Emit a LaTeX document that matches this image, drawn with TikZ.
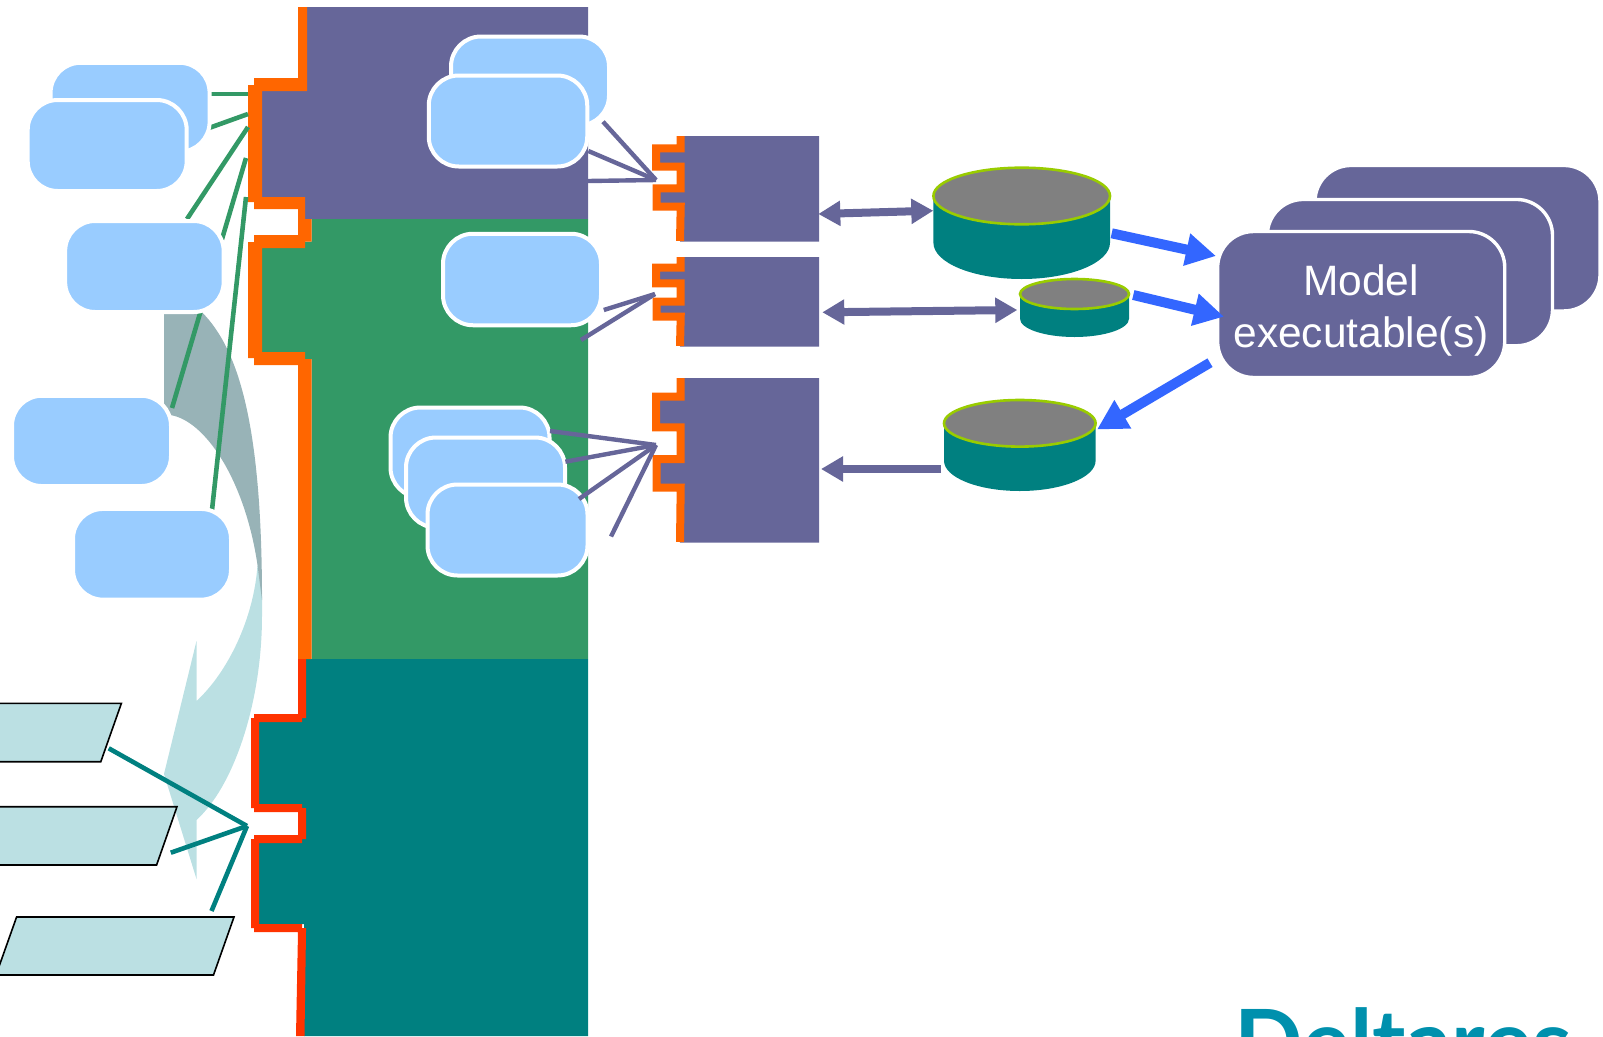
\documentclass[tikz,border=0pt]{standalone}
\usepackage{fontspec}
\setmainfont{Liberation Sans}
\newfontfamily\logofont{Lato}
\usetikzlibrary{arrows.meta,shapes.geometric}
\definecolor{cpurple}{HTML}{666699}
\definecolor{cgreen}{HTML}{339966}
\definecolor{cteal}{HTML}{008080}
\definecolor{clight}{HTML}{99CCFF}
\definecolor{cpale}{HTML}{BBE0E3}
\definecolor{cshade}{HTML}{98B3B7}
\definecolor{corange}{HTML}{FF6600}
\definecolor{cred}{HTML}{FF3300}
\definecolor{cblue}{HTML}{3366FF}
\definecolor{colive}{HTML}{99CC00}
\definecolor{cgray}{HTML}{808080}
\definecolor{clogo}{HTML}{0090AD}
\tikzset{
  lightbox/.style={rectangle,draw=white,fill=clight,line width=4pt,rounded corners=30pt,outer sep=0pt,inner sep=0pt},
  modelbox/.style={rectangle,draw=white,fill=cpurple,line width=3.4pt,rounded corners=36pt,outer sep=0pt,inner sep=0pt,text=white,align=center},
  greenline/.style={draw=cgreen,line width=4.6pt},
  tealline/.style={draw=cteal,line width=4.6pt},
  purpleline/.style={draw=cpurple,line width=4.4pt},
  dataflow/.style={draw=cpurple,line width=8pt},
  dbl/.style={dataflow,{Triangle[length=22pt,width=24pt]}-{Triangle[length=22pt,width=24pt]}},
  sgl/.style={dataflow,-{Triangle[length=22pt,width=24pt]}},
  blueflow/.style={draw=cblue,line width=10pt,-{Triangle[length=30pt,width=31pt]}},
  para/.style={fill=cpale,draw=black,line width=1.6pt,line join=miter},
  portpath/.style={draw=corange,line width=8pt,line join=miter,line cap=butt}
}
\newcommand{\drum}[7]{% x-centre, rx, top-centre y, top ry, side bottom y, bottom ry, name
  \fill[cteal] (#1-#2,#3) -- (#1-#2,#5) arc[x radius=#2,y radius=-#6,start angle=180,end angle=360] -- (#1+#2,#3) -- cycle;
  \node[ellipse,inner sep=0pt,outer sep=0pt,minimum width=#2*2pt,minimum height=#4*2pt,fill=cgray,draw=colive,line width=2.6pt] (#7) at (#1,#3) {};
}
\begin{document}
\begin{tikzpicture}[x=1pt,y=-1pt]
\useasboundingbox (0,0) rectangle (1603,1036);
\clip (0,0) rectangle (1603,1036);

% curved arrow behind the left boxes
\fill[cpale] (262,590) -- (262,616) .. controls (262,700) and (235,785) .. (196.5,820) -- (196.5,879) -- (164,774) -- (196.5,641) -- (196.5,701) .. controls (228,672) and (254,618) .. (257.5,565) -- cycle;
\fill[cshade] (164,314) -- (201.7,312) .. controls (240,350) and (262,430) .. (262,600) -- (257.5,565) .. controls (245,480) and (205,420) .. (170,415) -- (164,407) -- cycle;

% main components
\fill[cpurple] (307,7) -- (588,7) -- (588,219) -- (305,219) -- (305,197) -- (262,197) -- (262,91) -- (307,91) -- cycle;
\fill[cgreen] (311.6,219) -- (588,219) -- (588,659) -- (311.6,659) -- (311.6,359) -- (305,359) -- (305,352) -- (262,352) -- (262,248) -- (305,248) -- (305,241.7) -- (311.6,241.7) -- cycle;
\fill[cteal] (306,659) -- (588,659) -- (588,1036) -- (304,1036) -- (304,924) -- (259,924) -- (259,843) -- (302,843) -- (302,839) -- (306,839) -- (306,808) -- (302,808) -- (302,804) -- (259,804) -- (259,722) -- (302,722) -- (302,718) -- (306,718) -- cycle;
\fill[corange] (298,7) -- (298,78) -- (254,78) -- (254,85) -- (248,85) -- (248,202) -- (254,202) -- (254,209) -- (298,209) -- (298,235) -- (254,235) -- (254,242) -- (248,242) -- (248,358) -- (254,358) -- (254,365) -- (298,365) -- (298,659) -- (311.6,659) -- (311.6,359) -- (305,359) -- (305,352) -- (262,352) -- (262,248) -- (305,248) -- (305,241.7) -- (311.6,241.7) -- (311.6,219) -- (305,219) -- (305,197) -- (262,197) -- (262,91) -- (307,91) -- (307,7) -- cycle;
\fill[cred] (298,659) -- (298,714) -- (254,714) -- (254,718) -- (251,718) -- (251,808) -- (254,808) -- (254,812) -- (298,812) -- (298,835) -- (254,835) -- (254,839) -- (251,839) -- (251,928) -- (254,928) -- (254,932) -- (298,932) -- (296,1036) -- (304.5,1036) -- (306,932) -- (306,928) -- (302,928) -- (302,924) -- (259,924) -- (259,843) -- (302,843) -- (302,839) -- (306,839) -- (306,808) -- (302,808) -- (302,804) -- (259,804) -- (259,722) -- (302,722) -- (302,718) -- (306,718) -- (306,659) -- cycle;

% small components
\fill[cpurple] (680.7,136) -- (819,136) -- (819,241.7) -- (680,241.7) -- (680.7,206.7) -- (656.7,206.7) -- (656.7,188.3) -- (680.7,188.3) -- (680.7,166.7) -- (656,166.7) -- (656,148.3) -- (680.7,148.3) -- cycle;
\draw[portpath] (680.7,136) -- (680.7,148.3) -- (656,148.3) -- (656,166.7) -- (680.7,166.7) -- (680.7,188.3) -- (656.7,188.3) -- (656.7,206.7) -- (680.7,206.7) -- (680,241);
\fill[cpurple] (680.7,257) -- (819,257) -- (819,346.7) -- (680,346.7) -- (680.7,316.7) -- (656.7,316.7) -- (656.7,301.7) -- (680.7,301.7) -- (680.7,283.3) -- (656,283.3) -- (656,267.7) -- (680.7,267.7) -- cycle;
\draw[portpath] (680.7,257) -- (680.7,267.7) -- (656,267.7) -- (656,283.3) -- (680.7,283.3) -- (680.7,301.7) -- (656.7,301.7) -- (656.7,316.7) -- (680.7,316.7) -- (680,346);
\fill[cpurple] (680.7,378) -- (819,378) -- (819,542.7) -- (680,542.7) -- (680.7,487.7) -- (656.7,487.7) -- (656.7,459) -- (680.7,459) -- (680.7,427.3) -- (656,427.3) -- (656,396.7) -- (680.7,396.7) -- cycle;
\draw[portpath] (680.7,378) -- (680.7,396.7) -- (656,396.7) -- (656,427.3) -- (680.7,427.3) -- (680.7,459) -- (656.7,459) -- (656.7,487.7) -- (680.7,487.7) -- (680,542);

% connector anchors
\coordinate (gA) at (248,94);
\coordinate (gA2) at (211,94);
\coordinate (gB) at (248,114);
\coordinate (gB2) at (209,128);
\coordinate (gC) at (248,127);
\coordinate (gC2) at (187,219);
\coordinate (gD) at (246,158);
\coordinate (gD2) at (172,408);
\coordinate (gE) at (246,197);
\coordinate (gE2) at (212,510);
\coordinate (tJ) at (247,826);
\coordinate (t1) at (108.7,748.3);
\coordinate (t2) at (170.8,852.7);
\coordinate (t3) at (211.5,911);
\coordinate (pJ1) at (656,180);
\coordinate (p1a) at (603,121.7);
\coordinate (p1b) at (588.4,151);
\coordinate (p1c) at (588,181);
\coordinate (pJ2) at (655,294);
\coordinate (p2a) at (603.8,310);
\coordinate (p2b) at (581,340);
\coordinate (pJ3) at (656,445);
\coordinate (p3a) at (550,431);
\coordinate (p3b) at (565.4,461.7);
\coordinate (p3c) at (579,499);
\coordinate (p3d) at (611,536.5);

% connectors that pass under the boxes
\draw[greenline] (gA) -- (gA2);
\draw[greenline] (gB) -- (gB2);
\draw[greenline] (gC) -- (gC2);
\draw[greenline] (gD) -- (gD2);
\draw[greenline] (gE) -- (gE2);

% light boxes
\node[lightbox,minimum width=159pt,minimum height=89pt] (a1) at (130.1,107.3) {};
\node[lightbox,minimum width=159pt,minimum height=91pt] (a2) at (107.2,145.5) {};
\node[lightbox,minimum width=158.5pt,minimum height=91pt] (bb) at (144.4,266.5) {};
\node[lightbox,minimum width=159pt,minimum height=90.3pt] (cc) at (91.5,440.9) {};
\node[lightbox,minimum width=158pt,minimum height=90.7pt] (dd) at (152,554.3) {};
\node[lightbox,minimum width=158pt,minimum height=89pt] (e1) at (530,81) {};
\node[lightbox,minimum width=158.5pt,minimum height=91pt] (e2) at (508,121) {};
\node[lightbox,minimum width=158pt,minimum height=91.5pt] (ff) at (522,279.5) {};
\node[lightbox,minimum width=159pt,minimum height=90pt] (g1) at (470,452.5) {};
\node[lightbox,minimum width=159pt,minimum height=90pt] (g2) at (485.5,482.5) {};
\node[lightbox,minimum width=160pt,minimum height=91pt] (g3) at (507.5,530) {};

% connectors drawn over the boxes
\draw[purpleline] (pJ1) -- (p1a);
\draw[purpleline] (pJ1) -- (p1b);
\draw[purpleline] (pJ1) -- (p1c);
\draw[purpleline] (pJ2) -- (p2a);
\draw[purpleline] (pJ2) -- (p2b);
\draw[purpleline] (pJ3) -- (p3a);
\draw[purpleline] (pJ3) -- (p3b);
\draw[purpleline] (pJ3) -- (p3c);
\draw[purpleline] (pJ3) -- (p3d);

% parallelograms
\draw[para] (-30,703.3) -- (121.4,703.3) -- (100.8,761.7) -- (-50,761.7) -- cycle;
\draw[para] (-30,806.7) -- (177,806.7) -- (156.6,865) -- (-50,865) -- cycle;
\draw[para] (16.6,917) -- (234,917) -- (213.5,975) -- (-4,975) -- cycle;
\draw[tealline] (tJ) -- (t1);
\draw[tealline] (tJ) -- (t2);
\draw[tealline] (tJ) -- (t3);

% data stores
\drum{1021.7}{88.3}{196}{28.3}{242.7}{36.3}{dbA}
\drum{1074.5}{54.5}{294}{15}{318.7}{18.3}{dbB}
\drum{1019.8}{75.8}{423.3}{23.3}{460.7}{30.3}{dbC}

% model executables
\node[modelbox,minimum width=285pt,minimum height=145.5pt] (m3) at (1457.5,238.2) {};
\node[modelbox,minimum width=285.2pt,minimum height=146.3pt] (m2) at (1409.9,272.6) {};
\node[modelbox,minimum width=287.1pt,minimum height=146pt] (m1) at (1361.2,304.5) {};
\node[text=white,align=center,inner sep=0pt,font=\fontsize{42.5}{52.7}\selectfont] (m1label) at (1361,310.5) {Model\\executable(s)};

% flows
\coordinate (f1a) at (818.3,214);
\coordinate (f1b) at (933.3,210.7);
\coordinate (f2a) at (822.3,312.3);
\coordinate (f2b) at (1017.3,310);
\coordinate (f3a) at (941,469);
\coordinate (f3b) at (821,469);
\draw[dbl] (f1a) -- (f1b);
\draw[dbl] (f2a) -- (f2b);
\draw[sgl] (f3a) -- (f3b);
\coordinate (b1a) at (1111.7,233.3);
\coordinate (b1b) at (1216,256);
\coordinate (b2a) at (1133.3,295);
\coordinate (b2b) at (1224,316.7);
\coordinate (b3a) at (1210,362.7);
\coordinate (b3b) at (1097,429.5);
\draw[blueflow] (b1a) -- (b1b);
\draw[blueflow] (b2a) -- (b2b);
\draw[blueflow] (b3a) -- (b3b);

% logo, cut off by the page edge
\node[anchor=base west,inner sep=0pt,text=clogo,font=\logofont\bfseries\fontsize{90}{90}\selectfont] (logo) at (1234,1074) {Deltares};
\end{tikzpicture}
\end{document}
